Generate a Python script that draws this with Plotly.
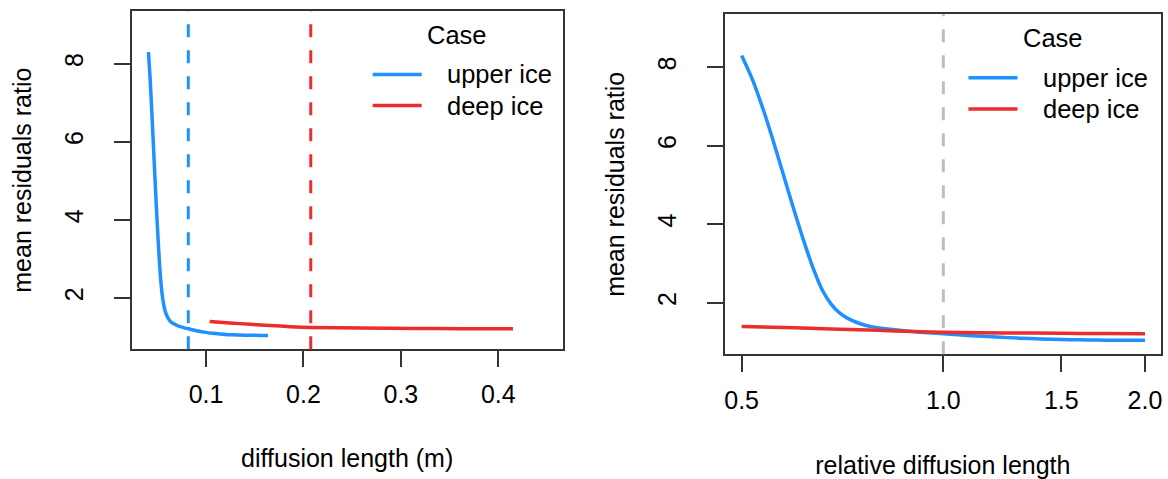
import math
import plotly.graph_objects as go

# ---------------- data ----------------
rel_upper = [0.50, 0.52, 0.54, 0.56, 0.58, 0.60, 0.62, 0.64, 0.66, 0.68, 0.70,
             0.72, 0.75, 0.78, 0.82, 0.86, 0.90, 0.95, 1.00, 1.10, 1.20, 1.30,
             1.40, 1.50, 1.60, 1.70, 1.80, 1.90, 2.00]
ratio_upper = [8.30, 7.65, 6.86, 6.01, 5.14, 4.31, 3.54, 2.86, 2.32, 1.97, 1.745,
               1.605, 1.475, 1.395, 1.342, 1.30, 1.268, 1.238, 1.215, 1.165, 1.13, 1.10,
               1.08, 1.065, 1.058, 1.052, 1.048, 1.046, 1.045]
rel_deep = [0.50, 0.60, 0.70, 0.80, 0.90, 1.00, 1.25, 1.50, 1.75, 2.00]
ratio_deep = [1.40, 1.365, 1.33, 1.30, 1.27, 1.25, 1.235, 1.225, 1.218, 1.215]

case_names = ["upper ice", "deep ice"]
ref_lengths = [0.0818, 0.2075]          # diffusion length (m) of each case
reference_relative = 1.0

x_ticks_left = [0.1, 0.2, 0.3, 0.4]
x_ticks_right = [0.5, 1.0, 1.5, 2.0]
x_ticklabels_right = ["0.5", "1.0", "1.5", "2.0"]
y_ticks = [2, 4, 6, 8]
legend_title = "Case"

# ---------------- style ----------------
W, H = 1168, 479
BLUE = "#1E90FF"
RED = "#EE2C2C"
GREY = "#BEBEBE"
AX = "#333333"
FONT = "Liberation Sans, Arial, sans-serif"
FS = 25
FS_LEG = 25.5
colors = [BLUE, RED]


def fx(px):
    return px / W


def fy(py):
    return 1 - py / H


rel_series = [(rel_upper, ratio_upper), (rel_deep, ratio_deep)]

fig = go.Figure()

# left panel: absolute diffusion length
for name, col, ref, (rel, ratio) in zip(case_names, colors, ref_lengths, rel_series):
    fig.add_trace(go.Scatter(
        x=[r * ref for r in rel], y=ratio, mode="lines", name=name,
        line=dict(color=col, width=3.5, shape="spline", smoothing=0.8),
        xaxis="x", yaxis="y", showlegend=False))

# right panel: relative diffusion length
for name, col, (rel, ratio) in zip(case_names, colors, rel_series):
    fig.add_trace(go.Scatter(
        x=rel, y=ratio, mode="lines", name=name,
        line=dict(color=col, width=3.5, shape="spline", smoothing=0.8),
        xaxis="x2", yaxis="y2", showlegend=False))

shapes = []
for col, ref in zip(colors, ref_lengths):
    shapes.append(dict(type="line", xref="x", yref="y domain", x0=ref, x1=ref,
                       y0=0, y1=1, line=dict(color=col, width=3, dash="13px,13px")))
shapes.append(dict(type="line", xref="x2", yref="y2 domain", x0=reference_relative,
                   x1=reference_relative, y0=0, y1=1,
                   line=dict(color=GREY, width=3, dash="13px,13px")))

# legends (one per panel, R-style: centred title, line keys, left-aligned labels)
annotations = []
legend_boxes = [
    # title centre x, title y, line x0, line x1, text x, item y's
    (456.7, 35.0, 372.7, 421.7, 445.0, [74.5, 105.5]),
    (1052.7, 37.5, 968.4, 1017.5, 1040.7, [77.7, 109.0]),
]
for tx, ty, lx0, lx1, textx, item_ys in legend_boxes:
    annotations.append(dict(text=legend_title, xref="paper", yref="paper",
                            x=fx(tx), y=fy(ty), xanchor="center", yanchor="middle",
                            showarrow=False,
                            font=dict(family=FONT, size=FS_LEG, color="#000")))
    for name, col, iy in zip(case_names, colors, item_ys):
        shapes.append(dict(type="line", xref="paper", yref="paper",
                           x0=fx(lx0), x1=fx(lx1), y0=fy(iy), y1=fy(iy),
                           line=dict(color=col, width=3.5)))
        annotations.append(dict(text=name, xref="paper", yref="paper",
                                x=fx(textx), y=fy(iy), xanchor="left", yanchor="middle",
                                showarrow=False,
                                font=dict(family=FONT, size=FS_LEG, color="#000")))

common_axis = dict(showline=True, linecolor=AX, linewidth=1.5, mirror=True,
                   ticks="outside", ticklen=16, tickwidth=1.5, tickcolor=AX,
                   showgrid=False, zeroline=False, automargin=False,
                   tickfont=dict(family=FONT, size=FS, color="#000"))

yrange = [0.69, 9.35]

fig.update_layout(
    width=W, height=H, template="none",
    paper_bgcolor="white", plot_bgcolor="white",
    margin=dict(l=0, r=0, t=0, b=0),
    font=dict(family=FONT, size=FS, color="#000"),
    showlegend=False,
    xaxis=dict(common_axis, domain=[fx(131.7), fx(562.7)], range=[0.0237, 0.4661],
               tickvals=x_ticks_left, anchor="y", ticklabelstandoff=6,
               title=dict(text="diffusion length (m)", standoff=42,
                          font=dict(family=FONT, size=FS))),
    yaxis=dict(common_axis, domain=[fy(349.3), fy(11)], range=yrange,
               tickvals=y_ticks, tickangle=-90, anchor="x", ticklabelstandoff=21,
               title=dict(text="mean residuals ratio", standoff=21,
                          font=dict(family=FONT, size=FS))),
    xaxis2=dict(common_axis, type="log", domain=[fx(725), fx(1160.7)],
                range=[math.log10(0.4722), math.log10(2.111)],
                tickvals=x_ticks_right, ticktext=x_ticklabels_right, anchor="y2",
                ticklabelstandoff=7,
                title=dict(text="relative diffusion length", standoff=44,
                           font=dict(family=FONT, size=FS))),
    yaxis2=dict(common_axis, domain=[fy(354.3), fy(14.3)], range=yrange,
                tickvals=y_ticks, tickangle=-90, anchor="x2", ticklabelstandoff=21,
                title=dict(text="mean residuals ratio", standoff=21,
                           font=dict(family=FONT, size=FS))),
    shapes=shapes,
    annotations=annotations,
)

fig.write_html("out.html", config={"displayModeBar": False},
               post_script="document.body.style.margin='0px';")
